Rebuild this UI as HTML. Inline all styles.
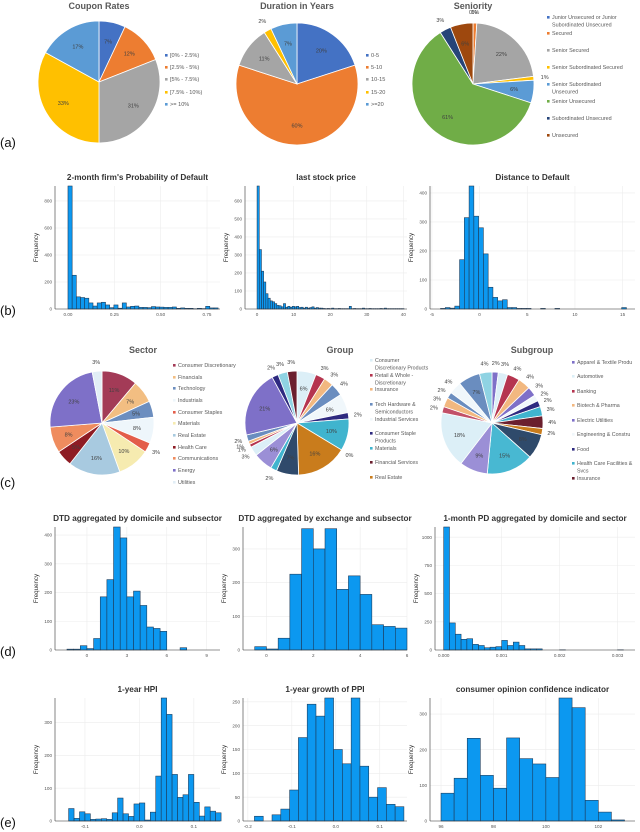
<!DOCTYPE html>
<html><head><meta charset="utf-8"><style>
html,body{margin:0;padding:0;background:#fff;}
svg{display:block;font-family:"Liberation Sans",sans-serif;}
</style></head><body>
<svg id="root" width="640" height="832" viewBox="0 0 640 832" xmlns="http://www.w3.org/2000/svg">
<g font-size="13" fill="#111">
<text x="0" y="147">(a)</text>
<text x="0" y="315">(b)</text>
<text x="0" y="487">(c)</text>
<text x="0" y="656">(d)</text>
<text x="0" y="827">(e)</text>
</g>
</svg>
<script>
// ---------- pie data ----------
const couponLabels=["[0% - 2.5%)","[2.5% - 5%)","[5% - 7.5%)","[7.5% - 10%)",">= 10%"];
const couponValues=[7,12,31,33,17];
const durationLabels=["0-5","5-10","10-15","15-20",">=20"];
const durationValues=[20,60,11,2,7];
const seniorityLabels=["Junior Unsecured or Junior|Subordinated Unsecured","Secured","Senior Secured","Senior Subordinated Secured","Senior Subordinated|Unsecured","Senior Unsecured","Subordinated Unsecured","Unsecured"];
const seniorityValues=[0,1,22,1,6,61,3,6];
const sectorLabels=["Consumer Discretionary","Financials","Technology","Industrials","Consumer Staples","Materials","Real Estate","Health Care","Communications","Energy","Utilities"];
const sectorValues=[11,7,5,8,3,10,16,5,8,23,3];
const groupValues=[6,3,3,4,6,2,10,0,16,7,2,6,3,1,1,2,21,2,3,3];
const groupLegend=["Consumer|Discretionary Products","Retail & Whole -|Discretionary","Insurance","Tech Hardware &|Semiconductors","Industrial Services","Consumer Staple|Products","Materials","Financial Services","Real Estate"];
const subgroupValues=[2,3,4,4,3,2,2,3,4,2,8,15,9,18,2,3,2,4,7,4];
const subgroupLegend=["Apparel & Textile Produ","Automotive","Banking","Biotech & Pharma","Electric Utilities","Engineering & Constru","Food","Health Care Facilities &|Svcs","Insurance"];

// ---------- histogram data ----------
const pdStart=0, pdWidth=0.0225;
const pdCounts=[911,250,90,85,80,45,22,45,50,30,10,30,6,45,15,20,22,12,12,10,18,15,14,12,12,15,5,8,5,5,2,5,3,20,8,8];
const pdTicks=[0,0.25,0.5,0.75];
const pdTickLabels=["0.00","0.25","0.50","0.75"];
const pdYTicks=[0,200,400,600,800];
const priceStart=0, priceWidth=0.6;
const priceCounts=[683,330,210,150,85,60,45,40,30,20,18,12,30,10,15,10,15,12,15,8,10,5,10,5,8,12,5,8,5,5,3,2,3,2,5,2,2,3,2,2,2,2,15,2,3,2,2,2,5,2,2,3,2,2,2,2,3,2,5,2,2,2,2,2,2,2,2];
const priceTicks=[0,10,20,30,40];
const priceYTicks=[0,100,200,300,400,500,600];
const dtdStart=-4.1, dtdWidth=0.5;
const dtdCounts=[2,5,3,10,170,315,430,320,280,190,75,40,28,32,5,5,2,2,2,0,0,2,0,0,2,0,0,0,0,0,0,0,0,0,0,0,0,0,5];
const dtdTicks=[-5,0,5,10,15];
const dtdYTicks=[0,100,200,300,400];
const domStart=-1.5, domWidth=0.5;
const domCounts=[3,3,15,5,40,185,245,430,390,185,205,155,80,75,65,0,0,8];
const domTicks=[0,3,6,9];
const domYTicks=[0,100,200,300,400];
const exchStart=-0.5, exchWidth=0.5;
const exchCounts=[10,3,35,225,360,300,360,180,220,165,75,70,65];
const exchTicks=[0,2,4,6];
const exchYTicks=[0,100,200,300];
const pd1Start=0, pd1Width=0.0001;
const pd1Counts=[1090,240,140,95,100,50,40,20,25,30,85,40,70,40,10,10,10,0,0,0,2,0,0,0,0,0,0,0,0,0,2];
const pd1Ticks=[0,0.001,0.002,0.003];
const pd1TickLabels=["0.000","0.001","0.002","0.003"];
const pd1YTicks=[0,250,500,750,1000];
const hpiStart=-0.13, hpiWidth=0.01;
const hpiCounts=[38,8,28,22,5,6,7,5,25,70,22,14,52,55,3,27,137,380,325,142,72,80,142,57,15,43,30,25];
const hpiTicks=[-0.1,0,0.1];
const hpiTickLabels=["-0.1","0.0","0.1"];
const hpiYTicks=[0,100,200,300];
const ppiStart=-0.185, ppiWidth=0.02;
const ppiCounts=[10,0,13,25,65,175,245,220,258,150,120,258,115,50,70,35,30];
const ppiTicks=[-0.2,-0.1,0,0.1];
const ppiTickLabels=["-0.2","-0.1","0.0","0.1"];
const ppiYTicks=[0,50,100,150,200,250];
const confStart=96, confWidth=0.5;
const confCounts=[78,120,232,128,92,233,175,160,122,345,318,58,25,3];
const confTicks=[96,98,100,102];
const confYTicks=[0,100,200,300];

// ---------- helpers ----------
const NS="http://www.w3.org/2000/svg";
const root=document.getElementById('root');
function mk(tag,attrs,parent){const e=document.createElementNS(NS,tag);for(const k in attrs)e.setAttribute(k,attrs[k]);(parent||root).appendChild(e);return e;}
function txt(parent,x,y,s,size,fill,anchor,weight){const t=mk('text',{x:x,y:y,'font-size':size,fill:fill,'text-anchor':anchor||'start','font-weight':weight||'normal'},parent);t.textContent=s;return t;}

function pie(name,title,cx,cy,r,vals,cols,tx,ty){
  const g=mk('g',{});
  
  
  const tt=txt(g,tx,ty,title,9,'#595959','middle','bold');
  
  
  const tot=vals.reduce((a,b)=>a+b,0);
  let a=-Math.PI/2;
  vals.forEach((v,i)=>{
    const da=v/tot*2*Math.PI;
    if(v>0){
      const x1=cx+r*Math.cos(a),y1=cy+r*Math.sin(a),x2=cx+r*Math.cos(a+da),y2=cy+r*Math.sin(a+da);
      const p=mk('path',{d:`M${cx},${cy}L${x1},${y1}A${r},${r} 0 ${da>Math.PI?1:0} 1 ${x2},${y2}Z`,fill:cols[i],stroke:'#fff','stroke-width':0.8},g);
      
      
    }
    const m=a+da/2;const big=v>=5;const rr=big?r*0.68:r*1.18;
    const l=txt(g,cx+rr*Math.cos(m),cy+rr*Math.sin(m)+2,Math.round(v)+'%',5.5,'#404040','middle');
    
    
    a+=da;
  });
}
function legend(name,x,ys,labels,cols,size){
  const g=mk('g',{});
  
  
  labels.forEach((lab,i)=>{
    const it=mk('g',{},g);
    
    
    mk('rect',{x:x,y:ys[i]-3,width:2.6,height:2.6,fill:cols[i]},it);
    lab.split('|').forEach((s,j)=>txt(it,x+5,ys[i]+j*7.5,s,size||5.6,'#595959'));
  });
}
function hist(name,title,box,xmin,xmax,ymax,start,width,counts,xt,xtl,yt){
  const [L,T,R,B]=box;
  const g=mk('g',{});
  
  
  const sx=v=>L+(v-xmin)/(xmax-xmin)*(R-L);
  const sy=v=>B-v/ymax*(B-T);
  const tt=txt(g,(L+R)/2,T-6,title,8.2,'#333','middle','bold');
  
  
  xt.forEach((v,i)=>{
    const gl=mk('line',{x1:sx(v),x2:sx(v),y1:T,y2:B,stroke:'#ececec','stroke-width':0.6},g);
    
    
    const tl=txt(g,sx(v),B+7,xtl?xtl[i]:String(v),4.6,'#555','middle');
    
    
  });
  yt.forEach(v=>{
    const gl=mk('line',{x1:L,x2:R,y1:sy(v),y2:sy(v),stroke:'#ececec','stroke-width':0.6},g);
    
    
    const tl=txt(g,L-3,sy(v)+1.6,String(v),4.6,'#555','end');
    
    
  });
  counts.forEach((c,i)=>{
    if(c<=0)return;
    const x0=sx(start+i*width),x1=sx(start+(i+1)*width);
    const h=Math.min(c,ymax);
    const b=mk('rect',{x:x0,y:sy(h),width:Math.max(x1-x0,0.5),height:B-sy(h),fill:'#0c98f0',stroke:'#1d3550','stroke-width':0.55},g);
    
    
  });
  mk('line',{x1:L,x2:L,y1:T,y2:B,stroke:'#333','stroke-width':0.6},g);
  mk('line',{x1:L,x2:R,y1:B,y2:B,stroke:'#333','stroke-width':0.6},g);
  const yl=txt(g,0,0,'Frequency',6.2,'#333','middle');
  yl.setAttribute('transform',`translate(${L-17},${(T+B)/2}) rotate(-90)`);
  
  
}

// ---------- row a ----------
const office=['#4472C4','#ED7D31','#A5A5A5','#FFC000','#5B9BD5'];
pie('coupon-pie','Coupon Rates',99,82,61,couponValues,office,99,9);
legend('coupon-legend',165,[57,69,81,94,106],couponLabels,office);
pie('duration-pie','Duration in Years',297,84,61,durationValues,office,297,9);
legend('duration-legend',366,[57,69,81,94,106],durationLabels,office);
const senCols=['#4472C4','#ED7D31','#A5A5A5','#FFC000','#5B9BD5','#70AD47','#264478','#9E480E'];
pie('seniority-pie','Seniority',473,84,61,seniorityValues,senCols,473,9);
legend('seniority-legend',547,[19,35,52,69,86,103,120,137],seniorityLabels,senCols,5.4);

// ---------- row c ----------
const secCols=['#A33B57','#F2BE82','#6C8EBF','#EEF6FB','#E35D4A','#F6EBB0','#A8CAE0','#8E1C24','#EF8C5E','#7E70C8','#E2EEF6'];
pie('sector-pie','Sector',102,423,52,sectorValues,secCols,143,353);
legend('sector-legend',173,[367,379,390,402,414,425,437,449,460,472,484],sectorLabels,secCols,5.4);
const gCols=['#DCEFF7','#B5354F','#F2B880','#6A8DBF','#F0F7FB','#2E2A80','#40B4CE','#8A1C2C','#C97C1C','#2F4A6B','#40B4CE','#9B8FD6','#DCEFF7','#B5354F','#F2B880','#6A8DBF','#7E70C8','#2E2A80','#8FD3E3','#6B1F2E'];
pie('group-pie','Group',297,423,52,groupValues,gCols,340,353);
legend('group-legend',370,[362,377,391,406,421,435,450,464,479],groupLegend,['#DCEFF7','#B5354F','#F2B880','#6A8DBF','#F0F7FB','#2E2A80','#40B4CE','#6B1F2E','#C97C1C'],5.3);
const sCols=['#7E70C8','#DCEFF7','#B5354F','#F2B880','#7E70C8','#F0F7FB','#2E2A80','#40B4CE','#6B1F2E','#C97C1C','#2F4A6B','#48B8D2','#9B8FD6','#DCEFF7','#C25068','#F2B880','#6A8DBF','#F0F7FB','#6A8DBF','#8FD3E3'];
pie('subgroup-pie','Subgroup',492,423,51,subgroupValues,sCols,532,353);
legend('subgroup-legend',572,[364,378,393,407,422,436,451,465,480],subgroupLegend,['#7E70C8','#DCEFF7','#B5354F','#F2B880','#7E70C8','#F0F7FB','#2E2A80','#40B4CE','#6B1F2E'],5.3);

// ---------- row b ----------
hist('pd-hist',"2-month firm's Probability of Default",[55,186,220,309],-0.07,0.82,911,pdStart,pdWidth,pdCounts,pdTicks,pdTickLabels,pdYTicks);
hist('price-hist','last stock price',[245,186,407,309],-3.3,41,683,priceStart,priceWidth,priceCounts,priceTicks,null,priceYTicks);
hist('dtd-hist','Distance to Default',[430,186,635,309],-5.2,16.3,424,dtdStart,dtdWidth,dtdCounts,dtdTicks,null,dtdYTicks);
// ---------- row d ----------
hist('dom-hist','DTD aggregated by domicile and subsector',[55,527,220,650],-2.4,10,428,domStart,domWidth,domCounts,domTicks,null,domYTicks);
hist('exch-hist','DTD aggregated by exchange and subsector',[243,527,407,650],-1.0,6,365,exchStart,exchWidth,exchCounts,exchTicks,null,exchYTicks);
hist('pd1-hist','1-month PD aggregated by domicile and sector',[435,527,635,650],-0.00015,0.00330,1090,pd1Start,pd1Width,pd1Counts,pd1Ticks,pd1TickLabels,pd1YTicks);
// ---------- row e ----------
hist('hpi-hist','1-year HPI',[55,698,220,821],-0.155,0.148,375,hpiStart,hpiWidth,hpiCounts,hpiTicks,hpiTickLabels,hpiYTicks);
hist('ppi-hist','1-year growth of PPI',[243,698,407,821],-0.211,0.162,258,ppiStart,ppiWidth,ppiCounts,ppiTicks,ppiTickLabels,ppiYTicks);
hist('conf-hist','consumer opinion confidence indicator',[430,698,635,821],95.58,103.4,345,confStart,confWidth,confCounts,confTicks,null,confYTicks);
</script>
</body></html>
